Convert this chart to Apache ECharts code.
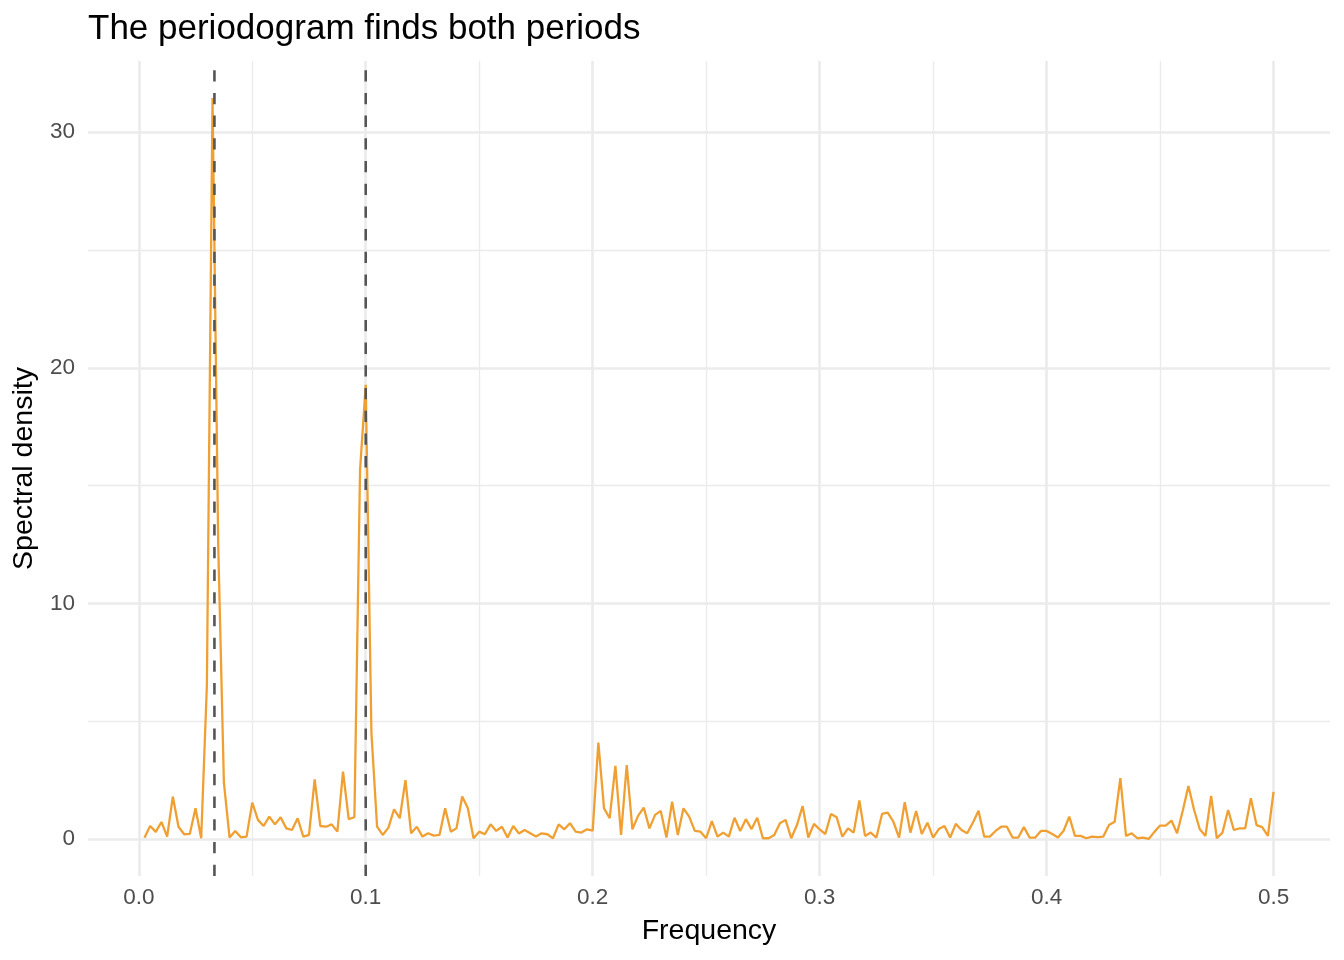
<!DOCTYPE html>
<html>
<head>
<meta charset="utf-8">
<script src="https://cdn.jsdelivr.net/npm/echarts@6/dist/echarts.min.js"></script>
<style>
html,body{margin:0;padding:0;background:#fff;}
#chart{width:1344px;height:960px;}
</style>
</head>
<body>
<div id="chart"></div>
<script>
const chartTitle = 'The periodogram finds both periods';
const xTitle = 'Frequency';
const yTitle = 'Spectral density';

const frequency = [
0.0025,0.005,0.0075,0.01,0.0125,0.015,0.0175,0.02,0.0225,0.025,0.0275,0.03,0.0325,0.035,0.0375,0.04,0.0425,0.045,0.0475,0.05,
0.0525,0.055,0.0575,0.06,0.0625,0.065,0.0675,0.07,0.0725,0.075,0.0775,0.08,0.0825,0.085,0.0875,0.09,0.0925,0.095,0.0975,0.1,
0.1025,0.105,0.1075,0.11,0.1125,0.115,0.1175,0.12,0.1225,0.125,0.1275,0.13,0.1325,0.135,0.1375,0.14,0.1425,0.145,0.1475,0.15,
0.1525,0.155,0.1575,0.16,0.1625,0.165,0.1675,0.17,0.1725,0.175,0.1775,0.18,0.1825,0.185,0.1875,0.19,0.1925,0.195,0.1975,0.2,
0.2025,0.205,0.2075,0.21,0.2125,0.215,0.2175,0.22,0.2225,0.225,0.2275,0.23,0.2325,0.235,0.2375,0.24,0.2425,0.245,0.2475,0.25,
0.2525,0.255,0.2575,0.26,0.2625,0.265,0.2675,0.27,0.2725,0.275,0.2775,0.28,0.2825,0.285,0.2875,0.29,0.2925,0.295,0.2975,0.3,
0.3025,0.305,0.3075,0.31,0.3125,0.315,0.3175,0.32,0.3225,0.325,0.3275,0.33,0.3325,0.335,0.3375,0.34,0.3425,0.345,0.3475,0.35,
0.3525,0.355,0.3575,0.36,0.3625,0.365,0.3675,0.37,0.3725,0.375,0.3775,0.38,0.3825,0.385,0.3875,0.39,0.3925,0.395,0.3975,0.4,
0.4025,0.405,0.4075,0.41,0.4125,0.415,0.4175,0.42,0.4225,0.425,0.4275,0.43,0.4325,0.435,0.4375,0.44,0.4425,0.445,0.4475,0.45,
0.4525,0.455,0.4575,0.46,0.4625,0.465,0.4675,0.47,0.4725,0.475,0.4775,0.48,0.4825,0.485,0.4875,0.49,0.4925,0.495,0.4975,0.5
];

const density = [
0.05,0.55,0.3,0.72,0.1,1.8,0.52,0.2,0.22,1.3,0.03,6.5,31.45,12.5,2.4,0.06,0.34,0.07,0.1,1.54,
0.81,0.55,0.95,0.62,0.92,0.45,0.38,0.88,0.1,0.17,2.53,0.55,0.52,0.62,0.31,2.86,0.84,0.92,15.67,19.28,
4.5,0.52,0.17,0.48,1.26,0.88,2.5,0.24,0.52,0.1,0.24,0.14,0.17,1.3,0.31,0.45,1.8,1.3,0.03,0.31,
0.2,0.62,0.34,0.52,0.06,0.55,0.23,0.38,0.24,0.1,0.24,0.2,0.03,0.62,0.41,0.67,0.31,0.27,0.41,0.35,
4.09,1.3,0.88,3.1,0.17,3.14,0.41,0.98,1.33,0.45,1.02,1.19,0.06,1.58,0.17,1.3,0.95,0.34,0.31,0.03,
0.76,0.1,0.27,0.1,0.9,0.34,0.84,0.42,0.9,0.03,0.03,0.17,0.67,0.81,0.03,0.59,1.4,0.06,0.64,0.41,
0.21,1.06,0.92,0.1,0.45,0.27,1.63,0.13,0.27,0.06,1.06,1.12,0.73,0.06,1.56,0.27,1.19,0.21,0.69,0.06,
0.42,0.55,0.06,0.64,0.38,0.24,0.69,1.2,0.1,0.1,0.34,0.52,0.52,0.06,0.06,0.5,0.06,0.06,0.34,0.34,
0.21,0.06,0.35,0.95,0.13,0.13,0.03,0.1,0.08,0.1,0.59,0.73,2.58,0.13,0.24,0.03,0.06,0.0,0.3,0.57,
0.57,0.78,0.24,1.2,2.25,1.23,0.41,0.13,1.83,0.03,0.27,1.23,0.38,0.45,0.45,1.73,0.59,0.5,0.13,2.0
];

const trueFrequencies = [1 / 30, 0.1];
const xMajorTicks = [0, 0.1, 0.2, 0.3, 0.4, 0.5];
const xMinorTicks = [0.05, 0.15, 0.25, 0.35, 0.45];
const yMajorTicks = [0, 10, 20, 30];
const yMinorTicks = [5, 15, 25];

const points = frequency.map((f, i) => [f, density[i]]);

// ggplot-style 5% expansion of the data range
const fLo = frequency[0], fHi = frequency[frequency.length - 1];
const xMin = fLo - 0.05 * (fHi - fLo);
const xMax = fHi + 0.05 * (fHi - fLo);
const yDataMax = Math.max(...density);
const yMin = -0.05 * yDataMax;
const yMax = yDataMax * 1.05;

const FONT = '"Liberation Sans", Arial, Helvetica, sans-serif';
const gridColor = '#ebebeb';

const gridLines = [];
xMajorTicks.forEach(v => gridLines.push({xAxis: v, lineStyle: {color: gridColor, width: 2.6, type: 'solid'}}));
xMinorTicks.forEach(v => gridLines.push({xAxis: v, lineStyle: {color: gridColor, width: 1.3, type: 'solid'}}));
yMajorTicks.forEach(v => gridLines.push({yAxis: v, lineStyle: {color: gridColor, width: 2.6, type: 'solid'}}));
yMinorTicks.forEach(v => gridLines.push({yAxis: v, lineStyle: {color: gridColor, width: 1.3, type: 'solid'}}));

const vlineSeries = trueFrequencies.map(f => ({
  type: 'line',
  z: 10,
  silent: true,
  data: [[f, yMin], [f, yMax]],
  showSymbol: false,
  symbol: 'none',
  lineStyle: {color: '#555555', width: 2.6, type: [11.3, 11.4]}
}));

const chart = echarts.init(document.getElementById('chart'), null, {renderer: 'canvas'});
chart.setOption({
  animation: false,
  backgroundColor: '#ffffff',
  title: {
    text: chartTitle,
    left: 88,
    top: 12,
    padding: 0,
    textStyle: {fontFamily: FONT, fontSize: 35, fontWeight: 'normal', color: '#000000'}
  },
  grid: {left: 88, right: 14, top: 61, bottom: 84, containLabel: false},
  xAxis: {
    type: 'value',
    min: xMin,
    max: xMax,
    name: xTitle,
    nameLocation: 'middle',
    nameGap: 41,
    nameTextStyle: {fontFamily: FONT, fontSize: 28.5, color: '#000000'},
    axisLine: {show: false},
    axisTick: {show: false},
    splitLine: {show: false},
    axisLabel: {
      customValues: xMajorTicks,
      formatter: v => v.toFixed(1),
      fontFamily: FONT, fontSize: 22.5, color: '#4d4d4d', margin: 10
    }
  },
  yAxis: {
    type: 'value',
    min: yMin,
    max: yMax,
    name: yTitle,
    nameLocation: 'middle',
    nameGap: 46,
    nameTextStyle: {fontFamily: FONT, fontSize: 28.5, color: '#000000'},
    axisLine: {show: false},
    axisTick: {show: false},
    splitLine: {show: false},
    axisLabel: {
      customValues: yMajorTicks,
      formatter: v => String(v),
      fontFamily: FONT, fontSize: 22.5, color: '#4d4d4d', margin: 13
    }
  },
  series: [
    {
      type: 'line',
      z: 1,
      silent: true,
      data: points,
      showSymbol: false,
      lineStyle: {opacity: 0, width: 0},
      markLine: {
        z: 0,
        silent: true,
        symbol: ['none', 'none'],
        label: {show: false},
        animation: false,
        data: gridLines
      }
    },
    {
      type: 'line',
      z: 5,
      data: points,
      showSymbol: false,
      symbol: 'none',
      lineStyle: {color: '#f0a033', width: 2.3},
      itemStyle: {color: '#f0a033'}
    }
  ].concat(vlineSeries)
});
</script>
</body>
</html>
